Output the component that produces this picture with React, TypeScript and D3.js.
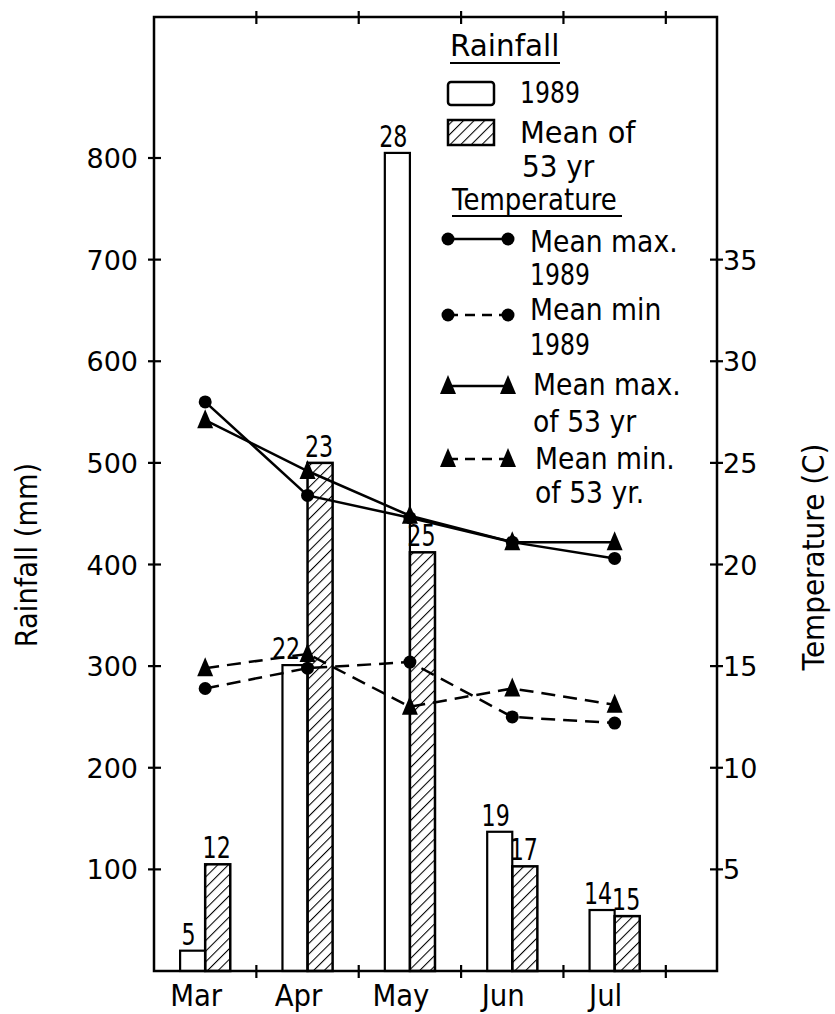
import React from "react";
import * as d3 from "d3";

// values
const months = ["Mar", "Apr", "May", "Jun", "Jul"];
const rain1989 = [20, 301, 805, 137, 60];
const rainMean53 = [105, 500, 412, 103, 54];
const rainDays1989 = [5, 22, 28, 19, 14];
const rainDaysMean53 = [12, 23, 25, 17, 15];
const tMax1989 = [28.0, 23.4, 22.3, 21.1, 20.3];
const tMin1989 = [13.9, 14.9, 15.2, 12.5, 12.2];
const tMax53 = [27.1, 24.6, 22.4, 21.1, 21.1];
const tMin53 = [14.9, 15.6, 13.0, 13.9, 13.1];
const rainTicks = [100, 200, 300, 400, 500, 600, 700, 800];
const tempTicks = [5, 10, 15, 20, 25, 30, 35];

const W = 835, H = 1014;
const left = 154, right = 717, top = 17, bottom = 971;
const FONT = "DejaVu Sans, Verdana, sans-serif";
const SW = 2.5;

const x = d3.scaleLinear().domain([-0.5, months.length]).range([left, right]);
const yRain = d3.scaleLinear().domain([0, 800]).range([bottom, 158]);
const yTemp = d3.scaleLinear().domain([0, 40]).range([bottom, 158]);
const step = x(1) - x(0);
const bw = step * 0.245;

// condensed lettering like the stencil text of the original
function Txt({ x, y, size = 30, sx = 0.88, anchor = "start", rotate = 0, children }: any) {
  return (
    <text
      transform={`translate(${x},${y}) rotate(${rotate}) scale(${sx},1)`}
      fontSize={size}
      fontFamily={FONT}
      textAnchor={anchor}
      fill="#000"
    >
      {children}
    </text>
  );
}

function Circle({ cx, cy }: any) {
  return <circle cx={cx} cy={cy} r={6.5} fill="#000" />;
}

function Tri({ cx, cy }: any) {
  const p = d3.path();
  p.moveTo(cx, cy - 11);
  p.lineTo(cx + 8, cy + 8);
  p.lineTo(cx - 8, cy + 8);
  p.closePath();
  return <path d={p.toString()} fill="#000" />;
}

function Series({ values, dashed, marker }: any) {
  const line = d3.line<number>().x((_, i) => x(i)).y((d) => yTemp(d));
  const M = marker === "tri" ? Tri : Circle;
  return (
    <g>
      <path
        d={line(values) || ""}
        fill="none"
        stroke="#000"
        strokeWidth={SW}
        strokeDasharray={dashed ? "14,8" : undefined}
      />
      {values.map((v: number, i: number) => (
        <M key={i} cx={x(i)} cy={yTemp(v)} />
      ))}
    </g>
  );
}

function LegendLine({ y, dashed, marker }: any) {
  const M = marker === "tri" ? Tri : Circle;
  return (
    <g>
      <line x1={448} x2={508} y1={y} y2={y} stroke="#000" strokeWidth={SW}
        strokeDasharray={dashed ? "10,7" : undefined} />
      <M cx={448} cy={y} />
      <M cx={508} cy={y} />
    </g>
  );
}

export default function App() {
  const gap = 6;
  return (
    <svg width={W} height={H} style={{ position: "absolute", left: 0, top: 0, background: "#fff" }}>
      <defs>
        <pattern id="hatch" patternUnits="userSpaceOnUse" width={7.5} height={7.5} patternTransform="rotate(45)">
          <line x1={0} y1={0} x2={0} y2={7.5} stroke="#000" strokeWidth={2.1} />
        </pattern>
      </defs>
      <rect width={W} height={H} fill="#fff" />

      {/* bars */}
      {months.map((m, i) => (
        <g key={m}>
          <rect x={x(i) - bw} y={yRain(rain1989[i])} width={bw} height={yRain(0) - yRain(rain1989[i])}
            fill="#fff" stroke="#000" strokeWidth={2.2} />
          <rect x={x(i)} y={yRain(rainMean53[i])} width={bw} height={yRain(0) - yRain(rainMean53[i])}
            fill="url(#hatch)" stroke="#000" strokeWidth={SW} />
        </g>
      ))}

      {/* bar labels */}
      {months.map((m, i) => (
        <g key={"l" + m}>
          <Txt x={x(i) - bw / 2 - (i === 1 ? 9 : 4)} y={yRain(rain1989[i]) - gap} anchor="middle" sx={0.74}>
            {rainDays1989[i]}
          </Txt>
          <Txt x={x(i) + bw / 2 - 1} y={yRain(rainMean53[i]) - gap} anchor="middle" sx={0.74}>
            {rainDaysMean53[i]}
          </Txt>
        </g>
      ))}

      {/* temperature lines */}
      <Series values={tMax1989} marker="circle" />
      <Series values={tMax53} marker="tri" />
      <Series values={tMin1989} marker="circle" dashed />
      <Series values={tMin53} marker="tri" dashed />

      {/* frame */}
      <rect x={left} y={top} width={right - left} height={bottom - top} fill="none" stroke="#000" strokeWidth={SW} />
      {rainTicks.map((t) => (
        <g key={"r" + t}>
          <line x1={left - 6} x2={left + 7} y1={yRain(t)} y2={yRain(t)} stroke="#000" strokeWidth={2.2} />
          <text x={138} y={yRain(t) + 10} fontSize={27} fontFamily={FONT} textAnchor="end">{t}</text>
        </g>
      ))}
      {tempTicks.map((t) => (
        <g key={"t" + t}>
          <line x1={right - 7} x2={right + 6} y1={yTemp(t)} y2={yTemp(t)} stroke="#000" strokeWidth={2.2} />
          <text x={723} y={yTemp(t) + 10} fontSize={27} fontFamily={FONT}>{t}</text>
        </g>
      ))}
      {months.map((m, i) => (
        <g key={"x" + m}>
          <line x1={x(i + 0.5)} x2={x(i + 0.5)} y1={bottom - 6} y2={bottom + 7} stroke="#000" strokeWidth={2.2} />
          <line x1={x(i + 0.5)} x2={x(i + 0.5)} y1={top - 6} y2={top + 7} stroke="#000" strokeWidth={2.2} />
          <Txt x={x(i) - 9} y={1006} anchor="middle" sx={0.92}>{m}</Txt>
        </g>
      ))}

      {/* axis titles */}
      <Txt x={37} y={555} rotate={-90} anchor="middle" size={31} sx={0.88}>Rainfall (mm)</Txt>
      <Txt x={824} y={557} rotate={-90} anchor="middle" size={31} sx={0.9}>Temperature (C)</Txt>

      {/* legend */}
      <Txt x={450} y={56} size={31} sx={0.95}>Rainfall</Txt>
      <line x1={450} x2={560} y1={63} y2={63} stroke="#000" strokeWidth={2.2} />
      <rect x={448} y={82} width={46} height={23} rx={3} fill="#fff" stroke="#000" strokeWidth={SW} />
      <Txt x={520} y={103} size={31} sx={0.76}>1989</Txt>
      <rect x={448} y={120} width={46} height={25} fill="url(#hatch)" stroke="#000" strokeWidth={SW} />
      <Txt x={520} y={143} size={31} sx={0.93}>Mean of</Txt>
      <Txt x={522} y={177} size={31} sx={0.9}>53 yr</Txt>

      <Txt x={452} y={210} size={31} sx={0.84}>Temperature</Txt>
      <line x1={452} x2={622} y1={216} y2={216} stroke="#000" strokeWidth={2.2} />
      <LegendLine y={239} marker="circle" />
      <Txt x={530} y={252} size={31} sx={0.86}>Mean max.</Txt>
      <Txt x={530} y={285} size={31} sx={0.76}>1989</Txt>
      <LegendLine y={315} marker="circle" dashed />
      <Txt x={530} y={320} size={31} sx={0.86}>Mean min</Txt>
      <Txt x={530} y={355} size={31} sx={0.76}>1989</Txt>
      <LegendLine y={386} marker="tri" />
      <Txt x={533} y={395} size={31} sx={0.86}>Mean max.</Txt>
      <Txt x={533} y={432} size={31} sx={0.86}>of 53 yr</Txt>
      <LegendLine y={459} marker="tri" dashed />
      <Txt x={535} y={469} size={31} sx={0.86}>Mean min.</Txt>
      <Txt x={535} y={503} size={31} sx={0.86}>of 53 yr.</Txt>
    </svg>
  );
}
